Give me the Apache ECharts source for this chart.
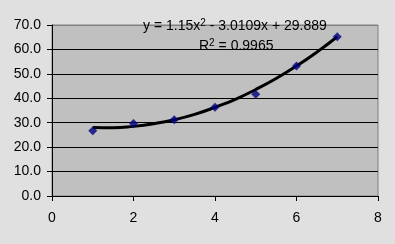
<!DOCTYPE html>
<html><head><meta charset="utf-8">
<script src="https://cdn.jsdelivr.net/npm/echarts@6/dist/echarts.min.js"></script>
<style>html,body{margin:0;padding:0;background:#e0e0e0;}#c{width:395px;height:244px;}</style>
</head><body><div id="c"></div>
<script>
var xValues = [1, 2, 3, 4, 5, 6, 7];
var yValues = [26.7, 29.7, 31.2, 36.3, 41.7, 53.2, 65.2];
var trendX = [1, 1.5, 2, 2.5, 3, 3.5, 4, 4.5, 5, 5.5, 6, 6.5, 7];
var trendY = [28.0, 27.9, 28.5, 29.6, 31.2, 33.4, 36.3, 39.6, 43.6, 48.1, 53.2, 58.9, 65.2];
var yTicks = [0, 10, 20, 30, 40, 50, 60, 70];
var xTicks = [0, 2, 4, 6, 8];
var eqText = ['y = 1.15x', '2', ' - 3.0109x + 29.889'];
var r2Text = ['R', '2', ' = 0.9965'];

var chart = echarts.init(document.getElementById('c'));
var font = 'Liberation Sans, Arial, sans-serif';
chart.setOption({
  backgroundColor: '#e0e0e0',
  animation: false,
  grid: {left: 52, right: 17, top: 25, bottom: 48, show: true, backgroundColor: '#c0c0c0', borderColor: '#808080', borderWidth: 1},
  xAxis: {
    type: 'value', min: xTicks[0], max: xTicks[xTicks.length-1], interval: 2,
    axisLine: {show: true, onZero: false, lineStyle: {color: '#000', width: 1}},
    axisTick: {show: true, length: 5, lineStyle: {color: '#000'}},
    axisLabel: {color: '#000', fontFamily: font, fontSize: 14, margin: 15},
    splitLine: {show: false}
  },
  yAxis: {
    type: 'value', min: yTicks[0], max: yTicks[yTicks.length-1], interval: 10,
    axisLine: {show: true, lineStyle: {color: '#000', width: 1}},
    axisTick: {show: true, length: 5, lineStyle: {color: '#000'}},
    axisLabel: {color: '#000', fontFamily: font, fontSize: 14, margin: 11, formatter: function(v){return v.toFixed(1);}},
    splitLine: {show: true, lineStyle: {color: ['#000','#000','#000','#000','#000','#000','#000','#808080'], width: 1}}
  },
  series: [
    {
      type: 'line', data: trendX.map(function(x,i){return [x, trendY[i]];}),
      smooth: true, showSymbol: false, symbol: 'none',
      lineStyle: {color: '#000', width: 3}, z: 2
    },
    {
      type: 'scatter', data: xValues.map(function(x,i){return [x, yValues[i]];}),
      symbol: 'diamond', symbolSize: 9, itemStyle: {color: '#000080'}, z: 3
    }
  ],
  graphic: [
    {type: 'text', left: 143, top: 18, style: {
      rich: {n: {fontSize: 14, fontFamily: font, fill: '#000'}, s: {fontSize: 10, fontFamily: font, fill: '#000', verticalAlign: 'top', padding: [0,0,6,0]}},
      text: '{n|' + eqText[0] + '}{s|' + eqText[1] + '}{n|' + eqText[2] + '}'
    }, z: 10},
    {type: 'text', left: 199, top: 38, style: {
      rich: {n: {fontSize: 14, fontFamily: font, fill: '#000'}, s: {fontSize: 10, fontFamily: font, fill: '#000', padding: [0,0,6,0]}},
      text: '{n|' + r2Text[0] + '}{s|' + r2Text[1] + '}{n|' + r2Text[2] + '}'
    }, z: 10}
  ]
});
</script></body></html>
